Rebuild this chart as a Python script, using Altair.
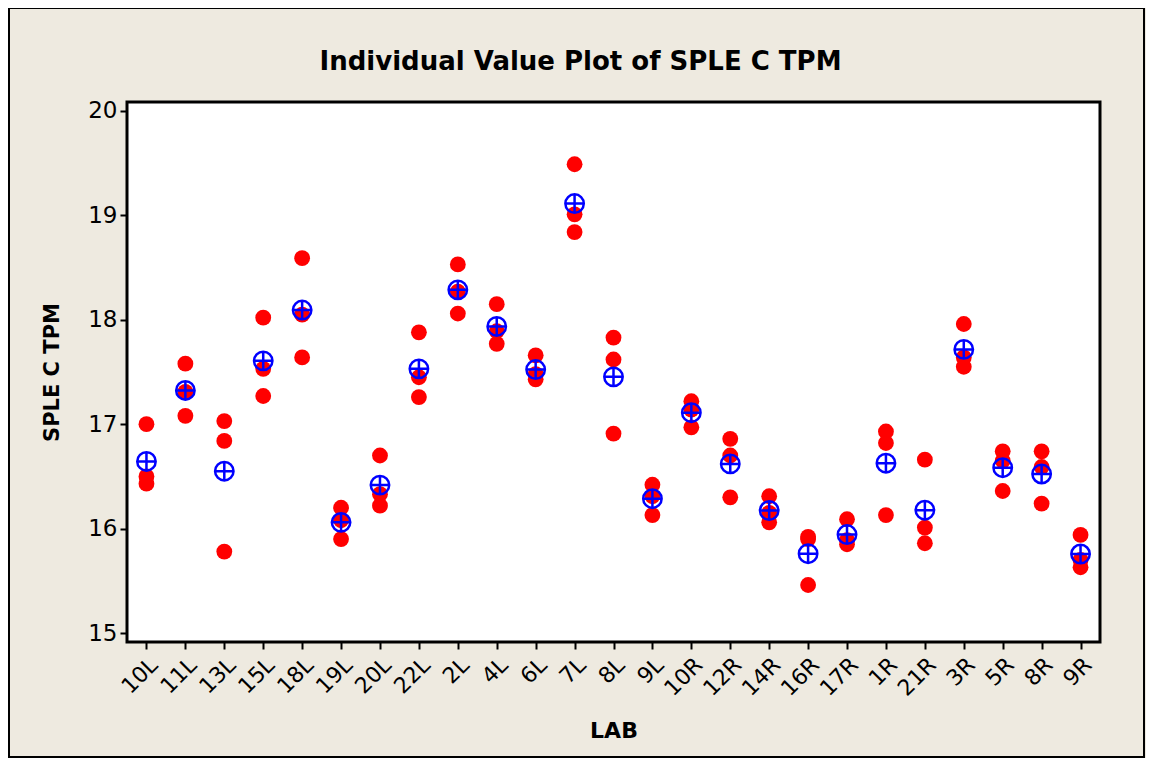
import altair as alt
import pandas as pd

labs = ["10L", "11L", "13L", "15L", "18L", "19L", "20L", "22L", "2L", "4L", "6L", "7L", "8L", "9L",
        "10R", "12R", "14R", "16R", "17R", "1R", "21R", "3R", "5R", "8R", "9R"]
v1 = [17.00, 17.58, 17.03, 18.02, 18.59, 16.20, 16.70, 17.88, 18.53, 18.15, 17.66, 19.49, 17.83, 16.42,
      17.22, 16.86, 16.31, 15.92, 16.09, 16.93, 16.66, 17.96, 16.74, 16.74, 15.94]
v2 = [16.50, 17.31, 16.84, 17.53, 18.05, 16.08, 16.33, 17.45, 18.27, 17.89, 17.48, 19.01, 17.62, 16.31,
      17.14, 16.70, 16.15, 15.90, 15.89, 16.82, 16.01, 17.64, 16.65, 16.59, 15.70]
v3 = [16.43, 17.08, 15.78, 17.27, 17.64, 15.90, 16.22, 17.26, 18.06, 17.77, 17.43, 18.84, 16.91, 16.13,
      16.97, 16.30, 16.06, 15.46, 15.85, 16.13, 15.86, 17.55, 16.36, 16.24, 15.63]
y_ticks = [15, 16, 17, 18, 19, 20]
title_text = "Individual Value Plot of SPLE C TPM"

rows = []
for i, lab in enumerate(labs):
    for v in (v1[i], v2[i], v3[i]):
        rows.append({"LAB": lab, "SPLE C TPM": v})
df = pd.DataFrame(rows)

FONT = "DejaVu Sans"
W, H = 973, 540

xenc = alt.X("LAB:N", sort=labs, scale=alt.Scale(type="point", padding=0.5),
             axis=alt.Axis(title="LAB", labelAngle=-45, labelFontSize=22, labelFont=FONT,
                           labelColor="black", tickColor="black", tickSize=7, tickWidth=2,
                           titleFont=FONT, titleFontSize=22, titleFontWeight="bold",
                           titleColor="black", titleY=88, titleBaseline="middle",
                           domain=False, labelPadding=5, grid=False))
yenc = alt.Y("SPLE C TPM:Q", scale=alt.Scale(domain=[14.914, 20.086], nice=False, zero=False),
             axis=alt.Axis(title="SPLE C TPM", values=y_ticks, format="d", labelFontSize=23,
                           labelFont=FONT, labelColor="black", tickColor="black", tickSize=7,
                           tickWidth=2, titleFont=FONT, titleFontSize=21, titleFontWeight="bold",
                           titleColor="black", titleX=-75, titleY=H / 2, titleAngle=-90,
                           titleAlign="center", titleBaseline="middle",
                           domain=False, grid=False, labelPadding=3))

base = alt.Chart(df)

dots = base.mark_circle(color="#FF0000", opacity=1, size=250).encode(x=xenc, y=yenc)

means = base.transform_aggregate(
    mean_val="mean(SPLE C TPM)", groupby=["LAB"]
).encode(x=alt.X("LAB:N", sort=labs), y=alt.Y("mean_val:Q"))

mean_circ = means.mark_point(shape="circle", filled=False, color="#0000FF", size=340,
                             strokeWidth=2.5, opacity=1)
mean_plus = means.mark_point(shape="M-1,0L1,0M0,-1L0,1", filled=False, color="#0000FF",
                             size=340, strokeWidth=2.5, opacity=1)

frame = alt.Chart(pd.DataFrame({"f": [0]})).mark_rect(
    fill=None, stroke="black", strokeWidth=2, clip=False
).encode(x=alt.value(-118), x2=alt.value(1017), y=alt.value(-94), y2=alt.value(655))

title = alt.Chart(pd.DataFrame({"t": [title_text]})).mark_text(
    font=FONT, fontSize=26, fontWeight="bold", color="black", align="center",
    baseline="middle", clip=False
).encode(text="t:N", x=alt.value(W / 2 - 33), y=alt.value(-40))

chart = alt.layer(frame, title, dots, mean_circ, mean_plus).properties(
    width=W, height=H,
    background="#EEEAE0",
    padding={"left": 119, "top": 94, "right": 46, "bottom": 116},
    autosize=alt.AutoSizeParams(type="none"),
).configure_view(
    stroke="black", strokeWidth=3, fill="white"
)

chart.save("out.html", embed_options={"renderer": "svg", "actions": False})
